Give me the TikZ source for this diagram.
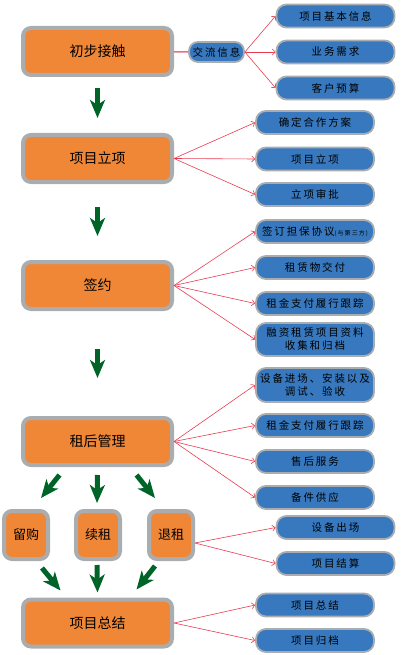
\documentclass[tikz,border=0pt]{standalone}
\usepackage{fontspec}
\setmainfont{Noto Sans CJK SC}
\newfontfamily\spacedfont{Noto Sans CJK SC}[LetterSpace=18]
\usetikzlibrary{arrows.meta}

\definecolor{boxorange}{RGB}{240,135,55}
\definecolor{boxblue}{RGB}{55,120,190}
\definecolor{framegray}{RGB}{170,173,176}
\definecolor{flowgreen}{RGB}{0,100,40}
\definecolor{linkred}{RGB}{232,60,80}
\definecolor{linkpink}{RGB}{236,110,130}

\tikzset{
  mainbox/.style={draw=framegray, fill=boxorange, line width=4pt, rounded corners=8pt,
    minimum width=149pt, minimum height=47pt, font=\fontsize{14}{16}\selectfont},
  optbox/.style={mainbox, minimum width=44pt, minimum height=48pt, font=\fontsize{13}{15}\selectfont},
  taskbox/.style={draw=framegray, fill=boxblue, line width=1.8pt, rounded corners=10pt,
    minimum width=118pt, minimum height=23pt, inner sep=1pt, align=center,
    font=\fontsize{10.5}{13}\spacedfont},
  link/.style={draw=linkred, line width=0.6pt, -{Straight Barb[length=3pt,width=6pt]}},
  flow/.style={draw=flowgreen, line width=5pt, -{Stealth[length=18pt,width=15pt,inset=5pt]}},
}

\begin{document}
\begin{tikzpicture}[x=1pt, y=-1pt]
    \useasboundingbox (0,0) rectangle (400,655);

    % main steps
    \node[mainbox] (chubu)   at (97.5,51.5)  {初步接触};
    \node[mainbox] (lixiang) at (97.5,158.5) {项目立项};
    \node[mainbox] (qianyue) at (97.5,285.5) {签约};
    \node[mainbox] (zuhou)   at (97.5,441.5) {租后管理};
    \node[mainbox] (zongjie) at (97.5,623)   {项目总结};

    \node[optbox] (liugou) at (26,535)  {留购};
    \node[optbox] (xuzu)   at (98,535)  {续租};
    \node[optbox] (tuizu)  at (171,535) {退租};

    % tasks
    \node[taskbox, minimum width=55pt, minimum height=20pt, rounded corners=9pt] (jiaoliu) at (216.5,52) {交流信息};
    \node[taskbox] (info1) at (335.5,16) {项目基本信息};
    \node[taskbox] (info2) at (335.5,52) {业务需求};
    \node[taskbox] (info3) at (335.5,88) {客户预算};

    \node[taskbox] (lx1) at (315,122.5) {确定合作方案};
    \node[taskbox] (lx2) at (315,159)   {项目立项};
    \node[taskbox] (lx3) at (315,194.5) {立项审批};

    \node[taskbox] (qy1) at (315,231.5) {签订担保协议{\fontsize{6}{7}\selectfont(与第三方)}};
    \node[taskbox] (qy2) at (315,267.5) {租赁物交付};
    \node[taskbox] (qy3) at (315,303.5) {租金支付履行跟踪};
    \node[taskbox, minimum height=33pt] (qy4) at (315,339.5) {融资租赁项目资料\\收集和归档};

    \node[taskbox, minimum height=34pt] (zh1) at (315,385) {设备进场、安装以及\\调试、验收};
    \node[taskbox] (zh2) at (315,425.5) {租金支付履行跟踪};
    \node[taskbox] (zh3) at (315,461.5) {售后服务};
    \node[taskbox] (zh4) at (315,497.5) {备件供应};

    \node[taskbox] (tz1) at (335.5,527.5) {设备出场};
    \node[taskbox] (tz2) at (335.5,563.5) {项目结算};

    \node[taskbox] (zj1) at (315,605)   {项目总结};
    \node[taskbox] (zj2) at (315,640.5) {项目归档};

    % red links
    \draw[linkpink, line width=1.5pt] (chubu) -- (jiaoliu);
    \foreach \t in {info1,info2,info3}
        \draw[link] (jiaoliu.east) -- (\t.west);
    \foreach \t in {lx1,lx2,lx3}
        \draw[link] (lixiang.east) -- (\t.west);
    \foreach \t in {qy1,qy2,qy3,qy4}
        \draw[link] (qianyue.east) -- (\t.west);
    \foreach \t in {zh1,zh2,zh3,zh4}
        \draw[link] (zuhou.east) -- (\t.west);
    \foreach \t in {tz1,tz2}
        \draw[link] ([yshift=-8pt]tuizu.east) -- (\t.west);
    \foreach \t in {zj1,zj2}
        \draw[link] (zongjie.east) -- (\t.west);

    % green flow arrows
    \draw[flow, shorten <=11pt, shorten >=15pt] (chubu) -- (lixiang);
    \draw[flow, shorten <=23pt, shorten >=24pt] (lixiang) -- (qianyue);
    \draw[flow, shorten <=38pt, shorten >=38pt] (qianyue) -- (zuhou);

    \draw[flow] ([xshift=-38pt,yshift=-8pt]zuhou.south) -- ([xshift=15pt,yshift=11pt]liugou.north);
    \draw[flow] ([yshift=-8pt]zuhou.south) -- ([xshift=-1pt,yshift=6pt]xuzu.north);
    \draw[flow] ([xshift=39pt,yshift=-8pt]zuhou.south) -- ([xshift=-16pt,yshift=11pt]tuizu.north);

    \draw[flow] ([xshift=16pt,yshift=-7pt]liugou.south) -- ([xshift=-37pt,yshift=7pt]zongjie.north);
    \draw[flow] ([xshift=-1pt,yshift=-4pt]xuzu.south) -- ([yshift=5pt]zongjie.north);
    \draw[flow] ([xshift=-16pt,yshift=-5pt]tuizu.south) -- ([xshift=39pt,yshift=8pt]zongjie.north);
\end{tikzpicture}
\end{document}
